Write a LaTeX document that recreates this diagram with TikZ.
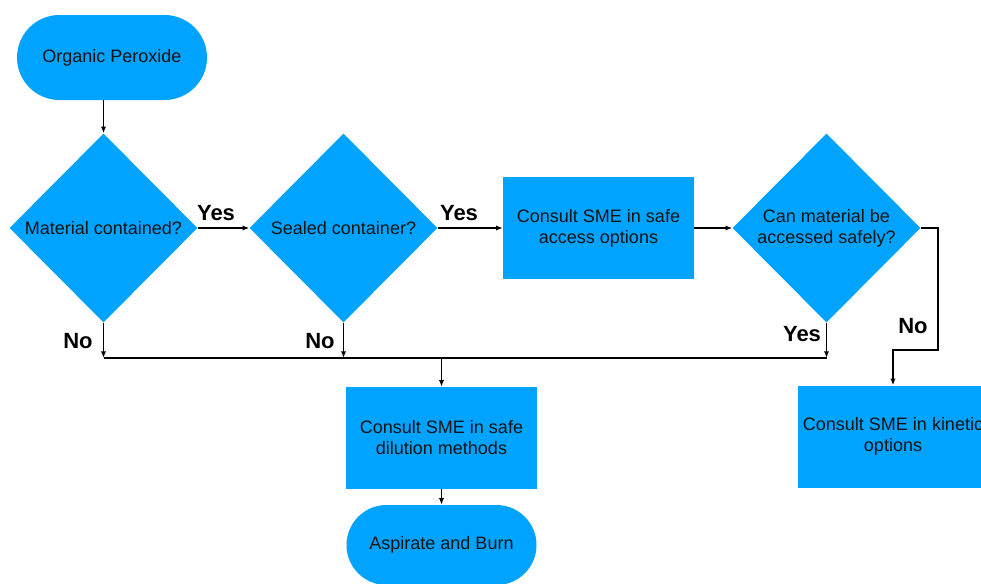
\documentclass[tikz,border=0pt]{standalone}
\usepackage{fontspec}
\setmainfont{Liberation Sans}
\usetikzlibrary{shapes.geometric,shapes.misc,arrows.meta}
\definecolor{fc}{RGB}{0,163,255}
\definecolor{tc}{RGB}{20,20,20}
\begin{document}
\begin{tikzpicture}[x=0.75pt,y=-0.75pt,
 base/.style={fill=fc,draw=none,text=tc,font=\fontsize{13.5}{15.75}\selectfont,align=center,inner sep=0pt},
 term/.style={base,rounded rectangle,minimum width=142.5pt,minimum height=63.75pt},
 proc/.style={base,rectangle,minimum width=143.25pt,minimum height=76.5pt},
 dec/.style={base,diamond,minimum width=141pt,minimum height=141.75pt},
 dtxt/.style={text=tc,font=\fontsize{13.5}{15.75}\selectfont,align=center,inner sep=0pt},
 line/.style={line width=1.2pt,draw=black},
 conn/.style={line,-{Latex[length=5pt,width=4pt]}},
 lbl/.style={font=\fontsize{16.5}{18}\selectfont\bfseries,inner sep=0pt}
]
\clip (0,0) rectangle (981,583);
\node[term] (start) at (112,57.5) {Organic Peroxide};
\node[dec, label={[dtxt]center:Material contained?}] (d1) at (103.5,228) {};
\node[dec, label={[dtxt]center:Sealed container?}] (d2) at (343.5,228) {};
\node[proc] (p1) at (598.5,228) {Consult SME in safe\\access options};
\node[dec, label={[dtxt]center:Can material be\\accessed safely?}] (d3) at (826.5,228) {};
\node[proc] (p2) at (441.5,438) {Consult SME in safe\\dilution methods};
\node[proc] (p3) at (893,436.5) {Consult SME in kinetic\\options};
\node[term, minimum height=60pt] (end) at (441.5,545) {Aspirate and Burn};

\coordinate (busL) at (d1.south |- 0,358);
\coordinate (busM) at (d2.south |- 0,358);
\coordinate (busR) at (d3.south |- 0,358);
\coordinate (busC) at (p2.north |- 0,358);
\coordinate (k1) at (938,350);

\draw[conn] (start.south -| d1.north) -- (d1.north);
\draw[conn] (d1.east) -- (d2.west);
\draw[conn] (d2.east) -- (p1.west);
\draw[conn] (p1.east) -- (d3.west);
\draw[conn] (d1.south) -- (busL);
\draw[conn] (d2.south) -- (busM);
\draw[conn] (d3.south) -- (busR);
\draw[line] (busL) -- (busR);
\draw[conn] (busC) -- (p2.north);
\draw[conn] (p2.south) -- (end.north);
\draw[conn] (d3.east) -| (k1) -| (p3.north);

\node[lbl] (y1) at (216,213) {Yes};
\node[lbl] (y2) at (459,213) {Yes};
\node[lbl] (n1) at (78,341) {No};
\node[lbl] (n2) at (320,341) {No};
\node[lbl] (y3) at (802,334) {Yes};
\node[lbl] (n3) at (913,326) {No};
\end{tikzpicture}
\end{document}
